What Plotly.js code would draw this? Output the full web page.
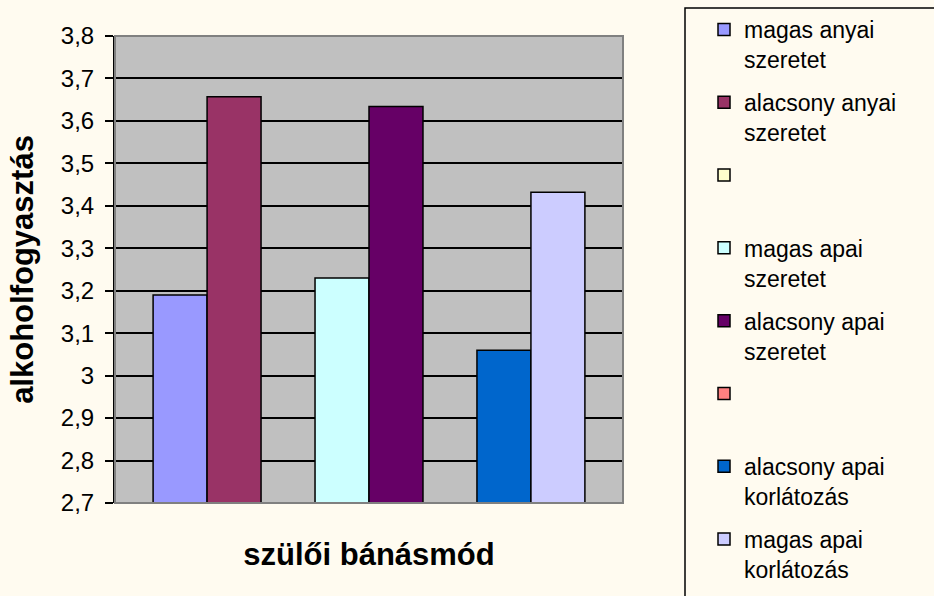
<!DOCTYPE html>
<html>
<head>
<meta charset="utf-8">
<script src="https://cdn.plot.ly/plotly-3.0.1.min.js"></script>
<style>html,body{margin:0;padding:0;background:#fffbf0;}</style>
</head>
<body>
<div id="chart" style="width:934px;height:596px;"></div>
<script>
// Data
const category = [""];
const seriesNames = [
  "magas anyai<br>szeretet",
  "alacsony anyai<br>szeretet",
  "\u00a0<br>\u00a0",
  "magas apai<br>szeretet",
  "alacsony apai<br>szeretet",
  "\u00a0<br>\u00a0",
  "alacsony apai<br>korlátozás",
  "magas apai<br>korlátozás"
];
const seriesValues = [3.19, 3.657, null, 3.23, 3.634, null, 3.06, 3.432];
const seriesColors = ["#9999ff", "#993366", "#ffffcc", "#ccffff", "#660066", "#ff8080", "#0066cc", "#ccccff"];
const yTickVals = [2.7, 2.8, 2.9, 3.0, 3.1, 3.2, 3.3, 3.4, 3.5, 3.6, 3.7, 3.8];
const yTitle = "alkoholfogyasztás";
const xTitle = "szülői bánásmód";

const FONT = "Liberation Sans, Arial, sans-serif";

const traces = seriesNames.map((n, i) => ({
  type: "bar",
  x: category,
  y: [seriesValues[i]],
  name: n,
  legendgroup: "g" + i,
  marker: { color: seriesColors[i], line: { color: "#000000", width: 1.5 } },
  hoverinfo: "y+name"
}));

// plot area in pixels: x 115..623, y 36..503
const L = 115, R = 623, T = 36, B = 503;
const px = v => (v - L) / (R - L);
const py = v => (B - v) / (B - T);

const layout = {
  width: 934,
  height: 596,
  paper_bgcolor: "#fffbf0",
  plot_bgcolor: "#c0c0c0",
  separators: ", ",
  margin: { l: L, r: 934 - R, t: T, b: 596 - B, autoexpand: false },
  barmode: "group",
  bargap: 0.15,
  bargroupgap: 0,
  font: { family: FONT, color: "#000000", size: 20 },
  xaxis: {
    showticklabels: false,
    ticks: "",
    showgrid: false,
    zeroline: false,
    showline: false,
    title: { text: xTitle, font: { family: FONT, size: 31, weight: "bold", color: "#000" }, standoff: 40 },
    automargin: false
  },
  yaxis: {
    range: [2.7, 3.8],
    tickvals: yTickVals,
    ticks: "outside",
    ticklen: 8,
    tickwidth: 1.5,
    tickcolor: "#000",
    ticklabelstandoff: 6,
    tickfont: { family: FONT, size: 24, color: "#000" },
    showgrid: true,
    gridcolor: "#000000",
    gridwidth: 1.5,
    zeroline: false,
    showline: true,
    linecolor: "#000000",
    linewidth: 2,
    title: { text: yTitle, font: { family: FONT, size: 31, weight: "bold", color: "#000" }, standoff: 18 },
    automargin: true
  },
  showlegend: true,
  legend: {
    x: px(704),
    xanchor: "left",
    y: py(8),
    yanchor: "top",
    bgcolor: "rgba(0,0,0,0)",
    borderwidth: 0,
    font: { family: FONT, size: 23, color: "#000" },
    traceorder: "grouped",
    valign: "top",
    tracegroupgap: 10,
    maxheight: 2000,
    itemclick: false,
    itemdoubleclick: false
  },
  shapes: [
    {
      type: "rect", xref: "paper", yref: "paper",
      x0: 0, x1: 1, y0: 0, y1: 1,
      line: { color: "#808080", width: 2 },
      fillcolor: "rgba(0,0,0,0)",
      layer: "above"
    },
    {
      type: "rect", xref: "paper", yref: "paper",
      x0: px(685), x1: px(960), y0: py(8), y1: py(620),
      line: { color: "#000000", width: 1.5 },
      fillcolor: "rgba(0,0,0,0)",
      layer: "below"
    }
  ]
};

Plotly.newPlot("chart", traces, layout, { displayModeBar: false });
</script>
</body>
</html>
